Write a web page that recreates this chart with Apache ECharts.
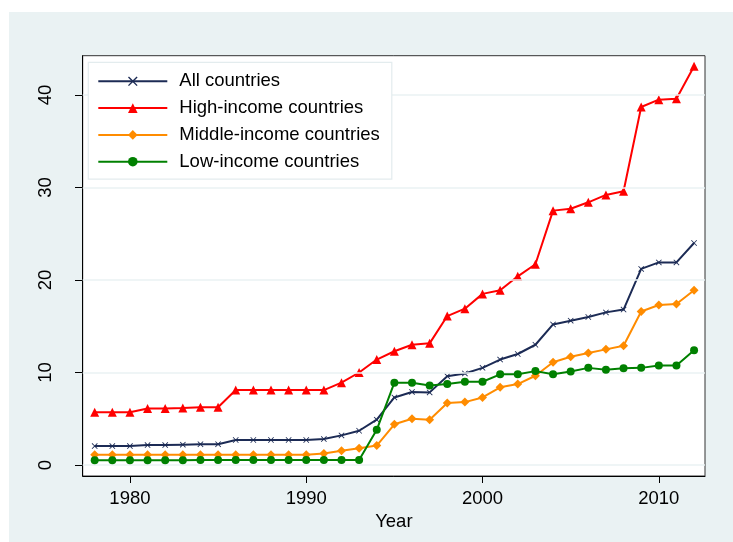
<!DOCTYPE html>
<html>
<head>
<meta charset="utf-8">
<script src="https://cdn.jsdelivr.net/npm/echarts@6/dist/echarts.min.js"></script>
<style>
html,body{margin:0;padding:0;background:#ffffff;}
#bg{position:absolute;left:9px;top:12px;width:724px;height:530px;background:#eaf2f3;}
#chart{position:absolute;left:0;top:0;width:733px;height:542px;}
</style>
</head>
<body>
<div id="bg"></div>
<div id="chart"></div>
<script>
const years = [1978,1979,1980,1981,1982,1983,1984,1985,1986,1987,1988,1989,1990,1991,1992,1993,1994,1995,1996,1997,1998,1999,2000,2001,2002,2003,2004,2005,2006,2007,2008,2009,2010,2011,2012];
const allCountries = [2.05,2.05,2.05,2.15,2.15,2.2,2.25,2.25,2.7,2.7,2.7,2.7,2.7,2.8,3.2,3.7,4.9,7.3,7.9,7.85,9.6,9.9,10.5,11.4,12.0,13.0,15.2,15.6,16.0,16.5,16.8,21.2,21.9,21.9,24.0];
const highIncome = [5.7,5.7,5.7,6.1,6.1,6.15,6.25,6.25,8.1,8.1,8.1,8.1,8.1,8.1,8.9,10.0,11.4,12.3,13.0,13.15,16.1,16.9,18.5,18.9,20.4,21.7,27.5,27.7,28.4,29.2,29.6,38.7,39.5,39.6,43.1];
const middleIncome = [1.1,1.1,1.1,1.1,1.1,1.1,1.1,1.1,1.1,1.1,1.1,1.1,1.1,1.25,1.55,1.8,2.1,4.4,5.0,4.9,6.7,6.8,7.3,8.4,8.75,9.65,11.1,11.7,12.1,12.5,12.9,16.6,17.3,17.4,18.9];
const lowIncome = [0.5,0.5,0.5,0.5,0.5,0.5,0.55,0.55,0.55,0.55,0.55,0.55,0.55,0.55,0.55,0.55,3.8,8.9,8.9,8.6,8.75,9.0,9.0,9.8,9.8,10.15,9.8,10.1,10.5,10.3,10.45,10.5,10.75,10.75,12.4];
const seriesNames = ['All countries','High-income countries','Middle-income countries','Low-income countries'];
const yTicks = [0,10,20,30,40];
const xTicks = [1980,1990,2000,2010];

const FONT = 'Arial, "Liberation Sans", sans-serif';
const crossPath = 'path://M0,1L1,0L5,4L9,0L10,1L6,5L10,9L9,10L5,6L1,10L0,9L4,5Z';

function pairs(vals){ return years.map((y,i)=>[y, vals[i]]); }

function mkSeries(name, vals, color, symbol, size, z){
  return {
    name: name, type: 'line', data: pairs(vals), z: z,
    symbol: symbol, symbolSize: size, showSymbol: true,
    lineStyle: {color: color, width: 2},
    itemStyle: {color: color},
    emphasis: {disabled: true},
    animation: false
  };
}

const chart = echarts.init(document.getElementById('chart'), null, {renderer:'canvas'});
const option = {
  backgroundColor: 'transparent',
  animation: false,
  grid: {left: 82.7, top: 55.7, right: 28, bottom: 66, show: true, backgroundColor: '#ffffff', borderColor: '#333333', borderWidth: 1, containLabel: false},
  legend: {
    left: 88.3, top: 62.3, orient: 'vertical', z: 20,
    backgroundColor: '#ffffff', borderColor: '#e3ecee', borderWidth: 1.2, borderRadius: 0,
    padding: [9.5, 12, 8, 9],
    itemWidth: 69, itemHeight: 12, itemGap: 7.8,
    textStyle: {fontFamily: FONT, fontSize: 18.5, color: '#000', lineHeight: 18, padding: [0,0,0,7]},
    data: seriesNames
  },
  xAxis: {
    type: 'value', min: 1977.32, max: 2012.62,
    name: 'Year', nameLocation: 'middle', nameGap: 31,
    nameTextStyle: {fontFamily: FONT, fontSize: 18.5, color: '#000'},
    axisLine: {show: true, onZero: false, lineStyle: {color: '#000', width: 1}},
    axisTick: {show: true, inside: false, length: 7, customValues: xTicks, lineStyle: {color: '#000', width: 1}},
    axisLabel: {customValues: xTicks, margin: 13, fontFamily: FONT, fontSize: 18.5, color: '#000', formatter: v => String(v)},
    splitLine: {show: false}
  },
  yAxis: {
    type: 'value', min: -1.19, max: 44.25,
    axisLine: {show: true, onZero: false, lineStyle: {color: '#000', width: 1}},
    axisTick: {show: true, inside: false, length: 7.7, customValues: yTicks, lineStyle: {color: '#000', width: 1}},
    axisLabel: {customValues: yTicks, rotate: 90, margin: 27, fontFamily: FONT, fontSize: 18.5, color: '#000', formatter: v => String(v)},
    splitLine: {show: false}
  },
  series: [
    {
      name: 'gridlines', type: 'line', data: [], z: 1, silent: true,
      markLine: {
        silent: true, symbol: 'none', label: {show: false}, animation: false,
        lineStyle: {color: '#eaf2f3', width: 1.5, type: 'solid'},
        data: yTicks.map(v => ({yAxis: v}))
      }
    },
    mkSeries(seriesNames[0], allCountries, '#1c2b55', crossPath, 6, 3),
    mkSeries(seriesNames[1], highIncome, '#ff0000', 'triangle', 9, 4),
    mkSeries(seriesNames[2], middleIncome, '#ff8c00', 'diamond', 9, 5),
    mkSeries(seriesNames[3], lowIncome, '#008000', 'circle', 8, 6)
  ]
};
chart.setOption(option);
</script>
</body>
</html>
